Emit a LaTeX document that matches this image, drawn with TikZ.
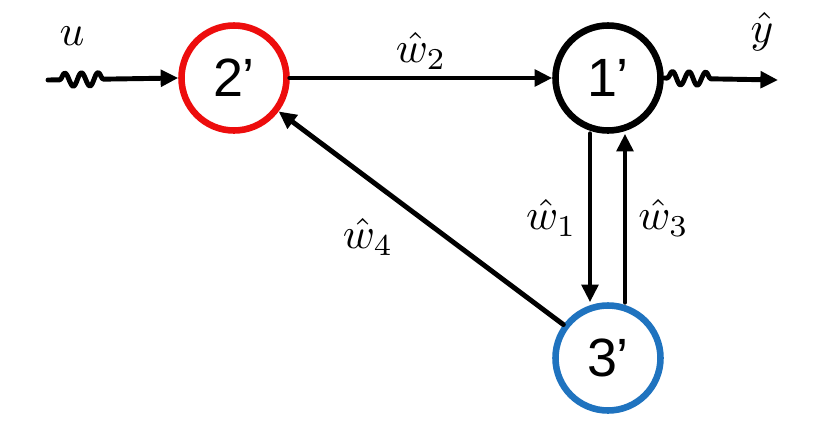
\documentclass[tikz,border=0pt]{standalone}
\usepackage{fontspec}
\setsansfont{Liberation Sans}
\usetikzlibrary{arrows.meta,decorations.pathmorphing}
\definecolor{nodered}{rgb}{0.93,0.05,0.05}
\definecolor{nodeblue}{rgb}{0.12,0.45,0.75}
\tikzset{
  vertex/.style={circle,draw,line width=5.6pt,minimum size=3.15cm,inner sep=0pt,font=\sffamily},
  link/.style={line width=4.2pt,-{Triangle[length=15pt,width=14pt]}},
  wavy/.style={link,decorate,decoration={snake,amplitude=0.2cm,segment length=0.5cm,pre length=0.35cm,post length=2.1cm}},
}
\newcommand{\bigtxt}[1]{\scalebox{4.6}{#1}}
\newcommand{\lbltxt}[1]{\scalebox{3.7}{#1}}
\begin{document}
\begin{tikzpicture}[x=0.03cm,y=-0.03cm,line cap=round,line join=round]
  \useasboundingbox (0,0) rectangle (830,434);
  % nodes
  \node[vertex,draw=nodered] (two) at (234,78) {\bigtxt{2'}};
  \node[vertex] (one) at (608,78) {\bigtxt{1'}};
  \node[vertex,draw=nodeblue] (three) at (608,358) {\bigtxt{3'}};
  \coordinate (in) at (48,80);
  \coordinate (out) at (778,80);
  % edges
  \draw[wavy] (in) -- (two.west);
  \draw[link] (two) -- node[above,yshift=2pt] {\lbltxt{$\hat{w}_2$}} (one);
  \draw[link] (one.south) ++(-18,0) coordinate (a) -- (a |- three.north) node[midway,left,xshift=-6pt] {\lbltxt{$\hat{w}_1$}};
  \draw[link] (three.north) ++(17,0) coordinate (b) -- (b |- one.south) node[midway,right,xshift=6pt] {\lbltxt{$\hat{w}_3$}};
  \draw[link] (three) -- node[below left,pos=0.55,xshift=-6pt,yshift=-4pt] {\lbltxt{$\hat{w}_4$}} (two);
  \draw[wavy,decoration={pre length=0.1cm,post length=1.8cm}] (one.east) -- (out);
  % signals
  \node (u) at (72,36) {\lbltxt{$u$}};
  \node (y) at (762,32) {\lbltxt{$\hat{y}$}};
\end{tikzpicture}
\end{document}
